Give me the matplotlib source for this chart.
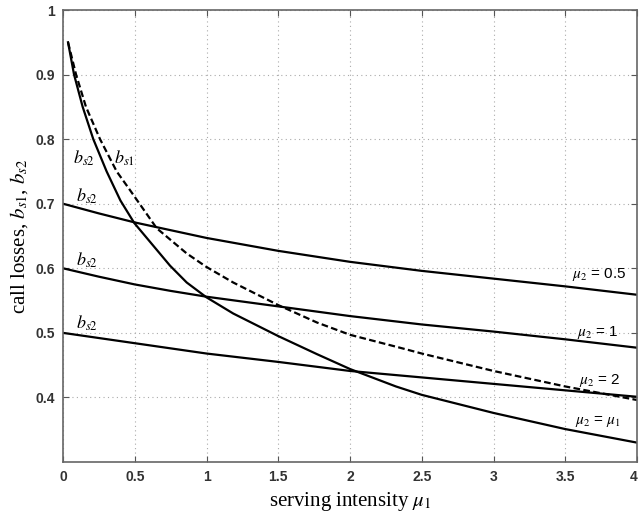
import numpy as np
import matplotlib
matplotlib.use("Agg")
import matplotlib.pyplot as plt

plt.rcParams["font.family"] = "Liberation Sans"
plt.rcParams["mathtext.fontset"] = "stix"
plt.rcParams["font.size"] = 10

# b_s2 with mu2 = mu1 (solid, steep)
x_eq = [0.035, 0.077, 0.137, 0.211, 0.304, 0.40, 0.497, 0.629, 0.746, 0.862,
        1.0, 1.186, 1.5, 1.77, 2.0, 2.32, 2.5, 3.0, 3.5, 4.0]
y_eq = [0.95, 0.90, 0.85, 0.80, 0.75, 0.705, 0.670, 0.635, 0.604, 0.578,
        0.555, 0.530, 0.495, 0.467, 0.444, 0.417, 0.404, 0.376, 0.351, 0.330]

# b_s1 (dashed)
x_s1 = [0.035, 0.091, 0.160, 0.258, 0.374, 0.467, 0.653, 0.862, 1.0, 1.186,
        1.5, 1.77, 2.0, 2.348, 2.5, 3.0, 3.5, 4.0]
y_s1 = [0.95, 0.90, 0.85, 0.80, 0.75, 0.721, 0.662, 0.623, 0.602, 0.578,
        0.543, 0.516, 0.497, 0.477, 0.468, 0.441, 0.417, 0.396]

# b_s2 for fixed mu2
x_fix = [0.0, 0.25, 0.5, 0.75, 1.0, 1.5, 2.0, 2.5, 3.0, 3.5, 4.0]
y_mu05 = [0.700, 0.685, 0.671, 0.659, 0.647, 0.627, 0.610, 0.596, 0.584, 0.572, 0.559]
y_mu1 = [0.600, 0.587, 0.575, 0.565, 0.556, 0.541, 0.526, 0.513, 0.502, 0.490, 0.477]
y_mu2 = [0.500, 0.492, 0.484, 0.476, 0.468, 0.455, 0.441, 0.431, 0.421, 0.411, 0.401]

xticks = [0, 0.5, 1, 1.5, 2, 2.5, 3, 3.5, 4]
xticklabels = ["0", "0.5", "1", "1.5", "2", "2.5", "3", "3.5", "4"]
yticks = [0.4, 0.5, 0.6, 0.7, 0.8, 0.9, 1.0]
yticklabels = ["0.4", "0.5", "0.6", "0.7", "0.8", "0.9", "1"]

fig = plt.figure(figsize=(6.39, 5.13), dpi=100)
ax = fig.add_axes([0.0986, 0.0994, 0.8983, 0.8811])

lw = 1.6
ax.plot(x_eq, y_eq, color="black", lw=lw)
ax.plot(x_s1, y_s1, color="black", lw=lw, linestyle=(0, (3, 1.5)))
ax.plot(x_fix, y_mu05, color="black", lw=lw)
ax.plot(x_fix, y_mu1, color="black", lw=lw)
ax.plot(x_fix, y_mu2, color="black", lw=lw)

ax.set_xlim(0, 4)
ax.set_ylim(0.3, 1.0)
ax.set_xticks(xticks)
ax.set_xticklabels(xticklabels)
ax.set_yticks(yticks)
ax.set_yticklabels(yticklabels)
ax.tick_params(direction="in", top=True, right=True, length=4, color="#555555",
               labelsize=10, pad=6)
for lab in ax.get_xticklabels() + ax.get_yticklabels():
    lab.set_fontweight("bold")
    lab.set_color("#333333")
# last x label sits at the figure edge; keep it inside
ax.get_xticklabels()[-1].set_horizontalalignment("right")
for s in ax.spines.values():
    s.set_color("#666666")
    s.set_linewidth(1.2)
ax.grid(True, linestyle=(0, (1, 3)), color="#aaaaaa", linewidth=0.8)

serif = "Liberation Serif"
ax.set_xlabel(r"serving intensity $\mu_1$", family=serif, fontsize=15, labelpad=4)
ax.set_ylabel(r"call losses, $b_{s1}$, $b_{s2}$", family=serif, fontsize=15, labelpad=4)

# curve labels
ax.text(0.146, 0.770, r"$b_{s2}$", fontsize=13, ha="center", va="center")
ax.text(0.427, 0.770, r"$b_{s1}$", fontsize=13, ha="center", va="center")
ax.text(0.17, 0.711, r"$b_{s2}$", fontsize=13, ha="center", va="center")
ax.text(0.17, 0.613, r"$b_{s2}$", fontsize=13, ha="center", va="center")
ax.text(0.17, 0.515, r"$b_{s2}$", fontsize=13, ha="center", va="center")

ax.text(3.74, 0.590, r"$\mu_2$ = 0.5", fontsize=11, ha="center", va="center")
ax.text(3.73, 0.501, r"$\mu_2$ = 1", fontsize=11, ha="center", va="center")
ax.text(3.74, 0.426, r"$\mu_2$ = 2", fontsize=11, ha="center", va="center")
ax.text(3.73, 0.362, r"$\mu_2$ = $\mu_1$", fontsize=11, ha="center", va="center")

fig.savefig("out.png", dpi=100)
